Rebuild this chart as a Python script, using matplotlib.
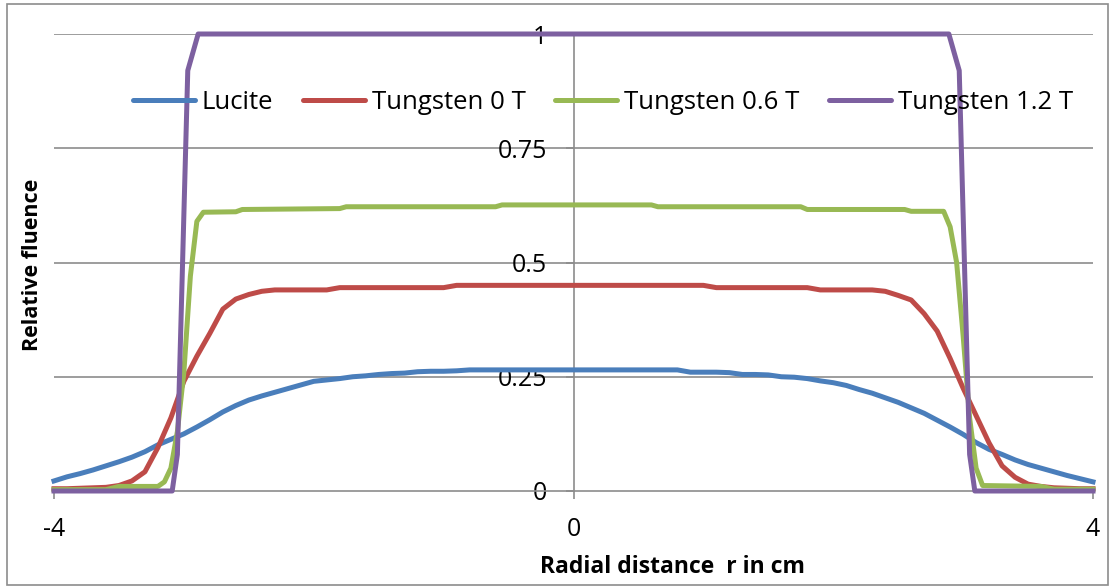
import matplotlib.pyplot as plt
from matplotlib.patches import Rectangle

plt.rcParams['font.family'] = ['Open Sans', 'DejaVu Sans']

# radial positions (cm) for the smooth curves, 0.1 cm spacing
r_grid = [-4.0, -3.9, -3.8, -3.7, -3.6, -3.5, -3.4, -3.3, -3.2, -3.1,
          -3.0, -2.9, -2.8, -2.7, -2.6, -2.5, -2.4, -2.3, -2.2, -2.1,
          -2.0, -1.9, -1.8, -1.7, -1.6, -1.5, -1.4, -1.3, -1.2, -1.1,
          -1.0, -0.9, -0.8, -0.7, -0.6, -0.5, -0.4, -0.3, -0.2, -0.1,
          0.0, 0.1, 0.2, 0.3, 0.4, 0.5, 0.6, 0.7, 0.8, 0.9,
          1.0, 1.1, 1.2, 1.3, 1.4, 1.5, 1.6, 1.7, 1.8, 1.9,
          2.0, 2.1, 2.2, 2.3, 2.4, 2.5, 2.6, 2.7, 2.8, 2.9,
          3.0, 3.1, 3.2, 3.3, 3.4, 3.5, 3.6, 3.7, 3.8, 3.9, 4.0]

lucite = [0.022, 0.031, 0.038, 0.046, 0.055, 0.064, 0.074, 0.086, 0.101, 0.113,
          0.125, 0.140, 0.156, 0.173, 0.187, 0.199, 0.208, 0.216, 0.224, 0.232,
          0.240, 0.243, 0.246, 0.250, 0.252, 0.255, 0.257, 0.258, 0.261, 0.262,
          0.262, 0.263, 0.265, 0.265, 0.265, 0.265, 0.265, 0.265, 0.265, 0.265,
          0.265, 0.265, 0.265, 0.265, 0.265, 0.265, 0.265, 0.265, 0.265, 0.260,
          0.260, 0.260, 0.259, 0.255, 0.255, 0.254, 0.250, 0.249, 0.246, 0.241,
          0.237, 0.231, 0.222, 0.214, 0.204, 0.194, 0.182, 0.170, 0.155, 0.140,
          0.124, 0.106, 0.091, 0.080, 0.068, 0.058, 0.050, 0.042, 0.034, 0.027, 0.020]

tungsten_0T = [0.005, 0.005, 0.006, 0.007, 0.008, 0.012, 0.022, 0.042, 0.095, 0.160,
               0.240, 0.295, 0.345, 0.398, 0.420, 0.430, 0.437, 0.440, 0.440, 0.440,
               0.440, 0.440, 0.445, 0.445, 0.445, 0.445, 0.445, 0.445, 0.445, 0.445,
               0.445, 0.450, 0.450, 0.450, 0.450, 0.450, 0.450, 0.450, 0.450, 0.450,
               0.450, 0.450, 0.450, 0.450, 0.450, 0.450, 0.450, 0.450, 0.450, 0.450,
               0.450, 0.445, 0.445, 0.445, 0.445, 0.445, 0.445, 0.445, 0.445, 0.440,
               0.440, 0.440, 0.440, 0.440, 0.437, 0.428, 0.418, 0.388, 0.350, 0.290,
               0.225, 0.165, 0.105, 0.055, 0.030, 0.015, 0.010, 0.007, 0.006, 0.005, 0.005]

# the magnetic-field curves have sharp edges, so they get their own breakpoints
r_06T = [-4.0, -3.6, -3.5, -3.2, -3.15, -3.1, -3.05, -3.0, -2.95, -2.9, -2.85,
         -2.6, -2.55, -1.8, -1.75, -0.6, -0.55, 0.6, 0.65, 1.75, 1.8,
         2.55, 2.6, 2.85, 2.9, 2.95, 3.0, 3.05, 3.1, 3.15, 3.6, 3.7, 4.0]
tungsten_06T = [0.003, 0.003, 0.010, 0.010, 0.020, 0.050, 0.130, 0.260, 0.470, 0.590, 0.610,
                0.611, 0.616, 0.618, 0.622, 0.622, 0.626, 0.626, 0.622, 0.622, 0.616,
                0.616, 0.612, 0.612, 0.578, 0.500, 0.340, 0.160, 0.050, 0.012, 0.010, 0.004, 0.004]

r_12T = [-4.0, -3.09, -3.05, -2.97, -2.89, 2.89, 2.97, 3.05, 3.09, 4.0]
tungsten_12T = [0.0, 0.0, 0.08, 0.92, 1.0, 1.0, 0.92, 0.08, 0.0, 0.0]

labels = ["Lucite", "Tungsten 0 T", "Tungsten 0.6 T", "Tungsten 1.2 T"]
colors = ["#4A7EBB", "#BE4B48", "#98B954", "#7D60A0"]
y_ticks = [0, 0.25, 0.5, 0.75, 1]
y_tick_labels = ["0", "0.25", "0.5", "0.75", "1"]
x_ticks = [-4, 0, 4]

fig = plt.figure(figsize=(11.11, 5.87), dpi=100)
ax = fig.add_axes([54 / 1111, 96 / 587, 1039 / 1111, 457 / 587])

series = [(r_grid, lucite), (r_grid, tungsten_0T), (r_06T, tungsten_06T), (r_12T, tungsten_12T)]
for (xs, ys), lab, col in zip(series, labels, colors):
    ax.plot(xs, ys, color=col, lw=3.6, label=lab, clip_on=False, zorder=3,
            solid_joinstyle='round')

ax.set_xlim(-4, 4)
ax.set_ylim(0, 1)

grid_col = "#8C8C8C"
for v in y_ticks[1:]:
    ax.axhline(v, color=grid_col, lw=1.2, zorder=1)

ax.spines['left'].set_position(('data', 0))
ax.spines['top'].set_visible(False)
ax.spines['right'].set_visible(False)
for s in ['left', 'bottom']:
    ax.spines[s].set_color(grid_col)
    ax.spines[s].set_linewidth(1.2)
    ax.spines[s].set_zorder(2)

ax.set_yticks(y_ticks)
ax.set_yticklabels(y_tick_labels)
ax.set_xticks(x_ticks)
ax.set_xticklabels([str(t) for t in x_ticks])
ax.tick_params(axis='y', direction='out', length=6, width=1.2, color=grid_col,
               pad=13, labelsize=18)
ax.tick_params(axis='x', direction='out', length=6, width=1.2, color=grid_col,
               pad=13, labelsize=18)

leg = ax.legend(loc='center left', bbox_to_anchor=((133 - 54) / 1039, 0.851),
                ncol=4, frameon=False, fontsize=18.5, handlelength=2.4,
                handletextpad=0.28, columnspacing=1.15, borderaxespad=0, borderpad=0)
for h in leg.get_lines():
    h.set_solid_capstyle('round')

fig.text(672 / 1111, 1 - 567 / 587, "Radial distance  r in cm", ha='center', va='center',
         fontsize=16.5, fontweight='bold')
fig.text(33 / 1111, 1 - 265 / 587, "Relative fluence", ha='center', va='center',
         rotation=90, fontsize=15.5, fontweight='bold')

# outer chart frame
fig.patches.append(Rectangle((7 / 1111, 2 / 587), 1101 / 1111, 581 / 587,
                             transform=fig.transFigure, fill=False,
                             edgecolor="#8C8C8C", lw=1.2))

fig.savefig("out.png", dpi=100)
